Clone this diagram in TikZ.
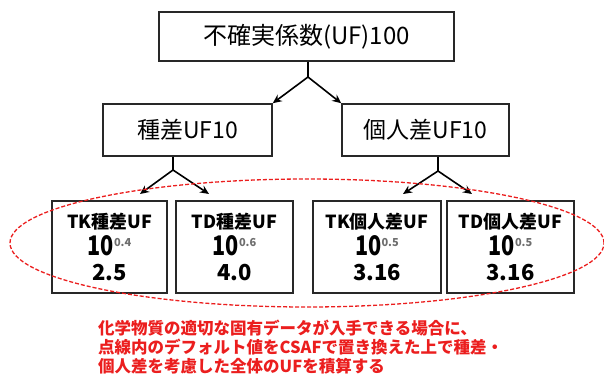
\documentclass[tikz,border=0pt]{standalone}
\usepackage{fontspec}
\setmainfont{Noto Sans CJK JP}
\usetikzlibrary{arrows.meta}
\definecolor{boxline}{RGB}{40,40,40}
\definecolor{redline}{RGB}{235,30,30}
\definecolor{supgray}{RGB}{110,110,110}
\tikzset{
  ufbox/.style={draw=boxline,line width=1.5pt,fill=white,inner sep=0pt,align=center},
  topbox/.style={ufbox,font=\fontsize{24}{24}\selectfont},
  midbox/.style={ufbox,font=\fontsize{23}{23}\selectfont},
  lowbox/.style={ufbox,minimum height=92pt},
  link/.style={draw=black,line width=1.6pt},
  linkarrow/.style={link,-{Stealth[length=9pt,width=8pt]}},
  redellipse/.style={draw=redline,line width=1.3pt,dash pattern=on 4pt off 2pt},
  note/.style={text=redline,font=\bfseries\fontsize{16.5}{16.5}\selectfont,anchor=west,inner sep=0pt}
}
\newcommand{\uftitle}[1]{{\bfseries\fontsize{18}{18}\selectfont #1}}
\newcommand{\ufpow}[1]{\scalebox{0.8}[1]{\bfseries\fontsize{27}{27}\selectfont 10}\raisebox{9pt}{\textcolor{supgray}{\bfseries\fontsize{11}{11}\selectfont #1}}}
\newcommand{\ufval}[1]{{\bfseries\fontsize{22}{22}\selectfont #1}}
\begin{document}
\begin{tikzpicture}[x=1pt,y=-1pt]
\useasboundingbox (0,0) rectangle (604,382);
% top
\node[topbox,minimum width=295pt,minimum height=49pt] (top) at (306.5,36.5) {不確実係数(UF)100};
% middle
\node[midbox,minimum width=169pt,minimum height=52pt] (ml) at (187.5,130) {種差UF10};
\node[midbox,minimum width=167pt,minimum height=52pt] (mr) at (425.5,130) {個人差UF10};
% bottom
\node[lowbox,minimum width=115pt] (b1) at (109.5,247) {\uftitle{TK種差UF}\\[4pt]\ufpow{0.4}\\[7pt]\ufval{2.5}};
\node[lowbox,minimum width=117pt] (b2) at (234.5,247) {\uftitle{TD種差UF}\\[4pt]\ufpow{0.6}\\[7pt]\ufval{4.0}};
\node[lowbox,minimum width=128pt] (b3) at (377,247) {\uftitle{TK個人差UF}\\[4pt]\ufpow{0.5}\\[7pt]\ufval{3.16}};
\node[lowbox,minimum width=127pt] (b4) at (510.5,247) {\uftitle{TD個人差UF}\\[4pt]\ufpow{0.5}\\[7pt]\ufval{3.16}};
% connectors
\coordinate (j0) at (308,77);
\coordinate (j1) at (173,170);
\coordinate (j2) at (438,171);
\coordinate (t1) at (140,194);
\coordinate (t2) at (209,194);
\coordinate (t3) at (403,194);
\coordinate (t4) at (472,194);
\draw[link] (top.south -| j0) -- (j0);
\draw[linkarrow] (j0) -- (ml.north east);
\draw[linkarrow] (j0) -- (mr.north west);
\draw[link] (ml.south -| j1) -- (j1);
\draw[linkarrow] (j1) -- (t1);
\draw[linkarrow] (j1) -- (t2);
\draw[link] (mr.south -| j2) -- (j2);
\draw[linkarrow] (j2) -- (t3);
\draw[linkarrow] (j2) -- (t4);
% dashed ellipse
\draw[redellipse] (307,243) ellipse [x radius=297pt,y radius=64pt];
% note
\node[note] (n1) at (98,328) {化学物質の適切な固有データが入手できる場合に、};
\node[note] (n2) at (98,347) {点線内のデフォルト値をCSAFで置き換えた上で種差・};
\node[note] (n3) at (98,366) {個人差を考慮した全体のUFを積算する};
\end{tikzpicture}
\end{document}
